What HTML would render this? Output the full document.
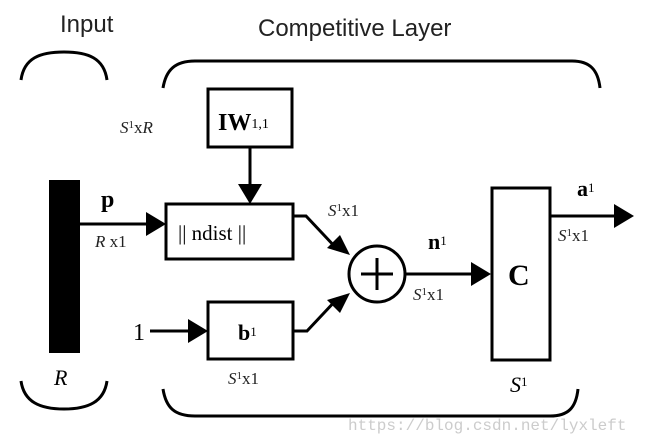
<!DOCTYPE html>
<html><head><style>body{margin:0;background:#fff}svg{display:block}</style></head><body>
<svg width="648" height="444" viewBox="0 0 648 444" xmlns="http://www.w3.org/2000/svg" font-family="Liberation Serif, serif">
<g fill="none" stroke="#000" stroke-width="3">
<path d="M21 80 C24 58 40 52 64 52 C88 52 104 58 107 80"/>
<path d="M163 88 C166 70 175 61 195 61 L572 61 C590 61 598 70 600 88"/>
<path d="M21 381 C24 402 40 409 64 409 C88 409 104 402 107 381"/>
<path d="M163 389 C166 408 175 416 195 416 L550 416 C568 416 576 408 578 389"/>
<rect x="166" y="204" width="127" height="55"/>
<rect x="208" y="89" width="84" height="58"/>
<rect x="208" y="302" width="85" height="57"/>
<rect x="492" y="188" width="58" height="172"/>
<circle cx="377" cy="274" r="28"/>
<path d="M377 258 V290 M361 274 H393"/>
<path d="M80 224 H148"/>
<path d="M250 147 V186"/>
<path d="M150 331 H190"/>
<path d="M293 216 H306 L338 250"/>
<path d="M293 331 H307 L338 298"/>
<path d="M405 274 H473"/>
<path d="M550 216 H618"/>
</g>
<rect x="49" y="180" width="31" height="173" fill="#000"/>
<g fill="#000">
<polygon points="146,212 166,224 146,236"/>
<polygon points="238,184 262,184 250,204"/>
<polygon points="188,319 208,331 188,343"/>
<polygon points="327,248 350,255 340,235"/>
<polygon points="327,300 350,293 340,313"/>
<polygon points="471,262 491,274 471,286"/>
<polygon points="614,204 634,216 614,228"/>
</g>
<g font-family="Liberation Sans, sans-serif" font-size="24" fill="#222">
<text x="60" y="32">Input</text>
<text x="258" y="36">Competitive Layer</text>
</g>
<g fill="#000">
<text x="218" y="130" font-size="24" font-weight="bold">IW<tspan font-size="14" font-weight="normal" dy="-2">1,1</tspan></text>
<text x="178" y="240" font-size="21">|| ndist ||</text>
<text x="238" y="340" font-size="22" font-weight="bold">b<tspan font-size="13" font-weight="normal" dy="-4">1</tspan></text>
<text x="508" y="285" font-size="30" font-weight="bold">C</text>
<text x="101" y="207" font-size="24" font-weight="bold">p</text>
<text x="428" y="249" font-size="22" font-weight="bold">n<tspan font-size="13" font-weight="normal" dy="-4">1</tspan></text>
<text x="577" y="196" font-size="22" font-weight="bold">a<tspan font-size="13" font-weight="normal" dy="-4">1</tspan></text>
<text x="133" y="340" font-size="24">1</text>
<text x="54" y="385" font-size="22" font-style="italic">R</text>
<text x="510" y="392" font-size="22" font-style="italic">S<tspan font-size="13" font-style="normal" dy="-6">1</tspan></text>
</g>
<g fill="#222" font-size="17">
<text x="120" y="133" font-style="italic">S<tspan font-size="11" font-style="normal" dy="-5">1</tspan><tspan dy="5" font-style="normal">x</tspan>R</text>
<text x="95" y="247"><tspan font-style="italic">R</tspan> x1</text>
<text x="328" y="216"><tspan font-style="italic">S</tspan><tspan font-size="11" dy="-5">1</tspan><tspan dy="5">x1</tspan></text>
<text x="413" y="300"><tspan font-style="italic">S</tspan><tspan font-size="11" dy="-5">1</tspan><tspan dy="5">x1</tspan></text>
<text x="558" y="241"><tspan font-style="italic">S</tspan><tspan font-size="11" dy="-5">1</tspan><tspan dy="5">x1</tspan></text>
<text x="228" y="384"><tspan font-style="italic">S</tspan><tspan font-size="11" dy="-5">1</tspan><tspan dy="5">x1</tspan></text>
</g>
<text x="348" y="430" font-family="Liberation Mono, monospace" font-size="16" fill="#ccc">https://blog.csdn.net/lyxleft</text>
</svg>
</body></html>
